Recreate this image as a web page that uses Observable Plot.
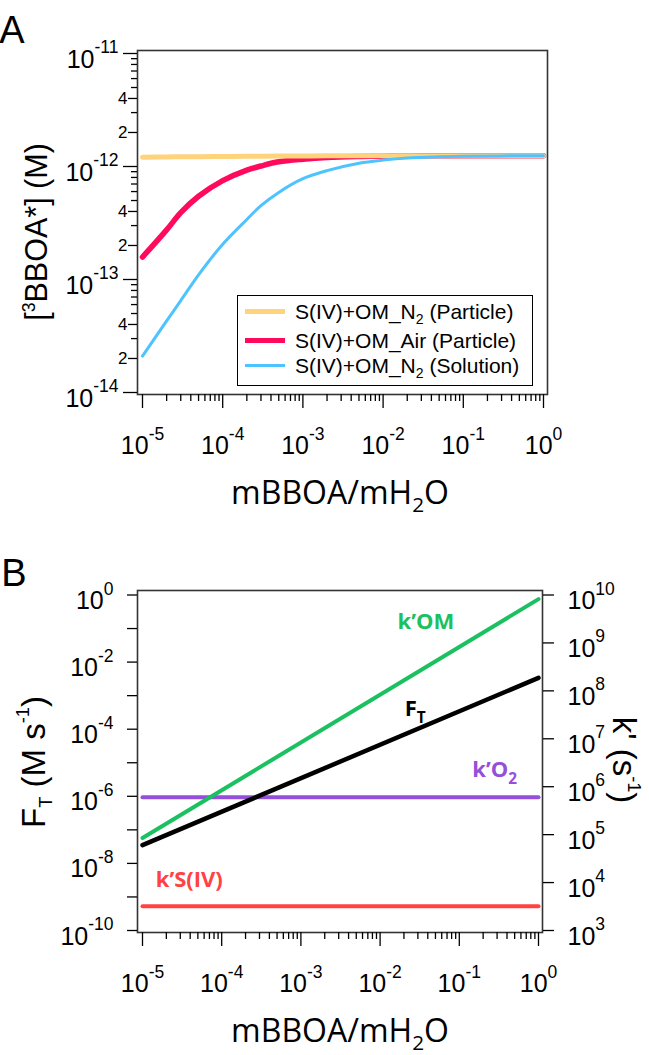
<!DOCTYPE html>
<html>
<head>
<meta charset="utf-8">
<script src="https://cdn.jsdelivr.net/npm/d3@7"></script>
<script src="https://cdn.jsdelivr.net/npm/@observablehq/plot@0.6"></script>
<style>
  html, body { margin: 0; padding: 0; background: #fff; }
  #wrap { width: 649px; }
  .panel { position: relative; width: 649px; }
  .panel svg { display: block; }
  #legend { position: absolute; left: 237px; top: 295px; width: 296px; height: 91px;
    border: 1.5px solid #000; box-sizing: border-box; background: #fff;
    font-family: "Liberation Sans", Arial, sans-serif; font-size: 21px; color: #000; }
  #legend .row { position: absolute; left: 0; height: 0; }
  #legend .sw { position: absolute; left: 7px; width: 40px; }
  #legend .lab { position: absolute; left: 57px; top: -12px; white-space: nowrap; line-height: 23px; }
  #legend sub { font-size: 14px; vertical-align: -5px; line-height: 0; }
</style>
</head>
<body>
<div id="wrap">
  <div class="panel" id="panelA"></div>
  <div class="panel" id="panelB"></div>
</div>
<script>
// ---------------- Data ----------------
// Panel A: [3BBOA*] (M) vs mBBOA/mH2O
const xA = [1e-5, 2e-5, 3e-5, 5e-5, 1e-4, 2e-4, 3e-4, 5e-4, 1e-3, 2e-3, 5e-3, 1e-2, 2e-2, 5e-2, 1e-1, 1];
const particleN2 = [1.21e-12, 1.215e-12, 1.218e-12, 1.22e-12, 1.225e-12, 1.23e-12, 1.233e-12, 1.236e-12, 1.24e-12, 1.242e-12, 1.244e-12, 1.245e-12, 1.245e-12, 1.245e-12, 1.245e-12, 1.245e-12];
const particleAir = [1.58e-13, 2.75e-13, 3.9e-13, 5.45e-13, 7.5e-13, 9.3e-13, 1.01e-12, 1.10e-12, 1.16e-12, 1.2e-12, 1.225e-12, 1.235e-12, 1.24e-12, 1.243e-12, 1.245e-12, 1.245e-12];
const solutionN2 = [2.1e-14, 4.3e-14, 6.5e-14, 1.1e-13, 2.05e-13, 3.4e-13, 4.5e-13, 5.9e-13, 7.8e-13, 9.2e-13, 1.07e-12, 1.14e-12, 1.19e-12, 1.22e-12, 1.235e-12, 1.245e-12];
const seriesA = ["S(IV)+OM_N2 (Particle)", "S(IV)+OM_Air (Particle)", "S(IV)+OM_N2 (Solution)"];
const colorsA = ["#FFD27C", "#FF0A5C", "#4DC3FF"];

// Panel B: F_T (M s-1, left) and k' (s-1, right)
const xB = [1e-5, 1];
const FT = [3.5e-8, 3.4e-3];
const kOM = [8.5e4, 8.2e9];
const kO2 = [6.0e5, 6.0e5];
const kSIV = [3.2e3, 3.2e3];
const labelsB = ["k’OM", "F_{T}", "k’O_{2}", "k’S(IV)"];
const labelXB = [0.0166, 0.0205, 0.146, 1.47e-5];
const labelYB = [0.162, 3.9e-4, 5.9e-6, 3.3e-9];   // in F_T units
const colorsB = ["#1BC160", "#000000", "#9450DA", "#FF4242"];

// Ticks
const xMajor = [1e-5, 1e-4, 1e-3, 1e-2, 1e-1, 1];
const yMajorA = [1e-14, 1e-13, 1e-12, 1e-11];
const yLabeledMinorA = [2e-14, 4e-14, 2e-13, 4e-13, 2e-12, 4e-12];
const yLabeledMinorTextA = ["2", "4", "2", "4", "2", "4"];
const yMajorBLeft = [1e-10, 1e-9, 1e-8, 1e-7, 1e-6, 1e-5, 1e-4, 1e-3, 1e-2, 1e-1, 1];
const yLabelBLeft = [1e-10, 1e-8, 1e-6, 1e-4, 1e-2, 1];
const yMajorBRight = [1e3, 1e4, 1e5, 1e6, 1e7, 1e8, 1e9, 1e10];

const mant = [2, 3, 4, 5, 6, 7, 8, 9];
const xMinor = [];
for (let e = -5; e < 0; e++) for (const m of mant) xMinor.push(m * 10 ** e);
const yMinorA = [];
for (let e = -14; e < -11; e++) for (const m of [3, 5, 6, 7, 8, 9]) yMinorA.push(m * 10 ** e);

// right axis (k') mapped onto left axis (F_T): 1e3 <-> 1e-10, 1e10 <-> 1e0
const kToF = k => 10 ** (-10 + (Math.log10(k) - 3) * 10 / 7);

const pow = d => "10^{" + Math.round(Math.log10(d)) + "}";
const FONT = "Liberation Sans, Arial, sans-serif";
const TITLEFONT = "Open Sans, sans-serif";
const TICKFS = 25;
const none = () => "";

// tick-label marks (text through the scales)
const xLabels = () => Plot.text(xMajor, {x: d => d, text: pow, frameAnchor: "bottom", lineAnchor: "top",
  dy: 42, fontSize: TICKFS, fontFamily: FONT});

// ---------------- Panel A ----------------
const lineA = (arr) => arr.map((v, j) => ({x: xA[j], y: v}));

const plotA = Plot.plot({
  width: 649, height: 515,
  marginLeft: 137, marginRight: 102, marginTop: 50, marginBottom: 121,
  insetLeft: 5, insetRight: 4, insetTop: 3, insetBottom: 2,
  x: {type: "log", domain: [1e-5, 1], label: null},
  y: {type: "log", domain: [1e-14, 1e-11], label: null},
  style: {fontFamily: FONT, color: "#000", background: "#fff", overflow: "visible"},
  marks: [
    Plot.line(lineA(particleAir), {x: "x", y: "y", stroke: colorsA[1], strokeWidth: 5.5, curve: "catmull-rom"}),
    Plot.line(lineA(particleN2), {x: "x", y: "y", stroke: colorsA[0], strokeWidth: 5, curve: "catmull-rom"}),
    Plot.line(lineA(solutionN2), {x: "x", y: "y", stroke: colorsA[2], strokeWidth: 3, curve: "catmull-rom"}),
    Plot.frame({stroke: "#333", strokeWidth: 1.6}),
    Plot.axisX(xMajor, {tickSize: 14, strokeWidth: 1.3, tickFormat: none, label: null}),
    Plot.axisX(xMinor, {tickSize: 7, strokeWidth: 1.3, tickFormat: none, label: null}),
    xLabels(),
    Plot.axisY(yMajorA, {tickSize: 14, strokeWidth: 1.3, tickFormat: none, label: null}),
    Plot.axisY(yLabeledMinorA, {tickSize: 9, strokeWidth: 1.3, tickFormat: none, label: null}),
    Plot.axisY(yMinorA, {tickSize: 6, strokeWidth: 1.3, tickFormat: none, label: null}),
    Plot.text(yMajorA, {y: d => d, text: pow, frameAnchor: "left", dx: -19, dy: 6, textAnchor: "end",
      fontSize: TICKFS, fontFamily: FONT}),
    Plot.text(yLabeledMinorA, {y: d => d, text: (d, i) => yLabeledMinorTextA[i], frameAnchor: "left", dx: -10,
      textAnchor: "end", fontSize: 17, fontFamily: FONT})
  ]
});
document.getElementById("panelA").appendChild(plotA);

// ---------------- Panel B ----------------
const rowsFT = xB.map((x, i) => ({x, y: FT[i]}));
const rowsOM = xB.map((x, i) => ({x, k: kOM[i]}));
const rowsO2 = xB.map((x, i) => ({x, k: kO2[i]}));
const rowsS = xB.map((x, i) => ({x, k: kSIV[i]}));
const rowsLab = labelsB.map((t, i) => ({t, x: labelXB[i], y: labelYB[i], c: colorsB[i]}));

const plotB = Plot.plot({
  width: 649, height: 540,
  marginLeft: 137, marginRight: 107, marginTop: 75, marginBottom: 123,
  insetLeft: 5, insetRight: 4, insetTop: 4.5, insetBottom: 2,
  x: {type: "log", domain: [1e-5, 1], label: null},
  y: {type: "log", domain: [1e-10, 1], label: null},
  style: {fontFamily: FONT, color: "#000", background: "#fff", overflow: "visible"},
  marks: [
    Plot.line(rowsS, {x: "x", y: d => kToF(d.k), stroke: colorsB[3], strokeWidth: 4}),
    Plot.line(rowsO2, {x: "x", y: d => kToF(d.k), stroke: colorsB[2], strokeWidth: 4}),
    Plot.line(rowsOM, {x: "x", y: d => kToF(d.k), stroke: colorsB[0], strokeWidth: 4}),
    Plot.line(rowsFT, {x: "x", y: "y", stroke: colorsB[1], strokeWidth: 4.5}),
    Plot.text(rowsLab, {x: "x", y: "y", text: "t", fill: "c", textAnchor: "start",
      fontFamily: TITLEFONT, fontWeight: "bold", fontSize: 22}),
    Plot.frame({stroke: "#333", strokeWidth: 1.6}),
    Plot.axisX(xMajor, {tickSize: 14, strokeWidth: 1.3, tickFormat: none, label: null}),
    Plot.axisX(xMinor, {tickSize: 7, strokeWidth: 1.3, tickFormat: none, label: null}),
    xLabels(),
    Plot.axisY(yMajorBLeft, {tickSize: 10, strokeWidth: 1.3, tickFormat: none, label: null}),
    Plot.text(yLabelBLeft, {y: d => d, text: pow, frameAnchor: "left", dx: -24, dy: 6, textAnchor: "end",
      fontSize: TICKFS, fontFamily: FONT}),
    Plot.axisY(yMajorBRight.map(kToF), {anchor: "right", tickSize: 11, strokeWidth: 1.3, tickFormat: none, label: null}),
    Plot.text(yMajorBRight, {y: k => kToF(k), text: pow, frameAnchor: "right", dx: 25, dy: 6, textAnchor: "start",
      fontSize: TICKFS, fontFamily: FONT})
  ]
});
document.getElementById("panelB").appendChild(plotB);

// ---------------- Titles (real text) ----------------
const NS = "http://www.w3.org/2000/svg";
function addText(svg, str, attrs) {
  const t = document.createElementNS(NS, "text");
  for (const k in attrs) t.setAttribute(k, attrs[k]);
  t.textContent = str;
  svg.appendChild(t);
  return t;
}
addText(plotA, "A", {x: 12, y: 43, "font-size": 38, "font-family": FONT});
addText(plotA, "[^{3}BBOA*] (M)", {transform: "translate(47,232) rotate(-90)", "text-anchor": "middle", "font-size": 30.5,
  "font-family": FONT, "data-sup": 0.38, "data-ss": 0.58});
addText(plotA, "mBBOA/mH_{2}O", {x: 340, y: 504, "text-anchor": "middle", "font-size": 32, "font-family": TITLEFONT,
  "data-sub": 0.26, "data-ss": 0.65});

addText(plotB, "B", {x: 14, y: 71, "font-size": 38, "font-family": FONT});
addText(plotB, "F_{T} (M s^{-1})", {transform: "translate(45,247) rotate(-90)", "text-anchor": "middle", "font-size": 33,
  "font-family": FONT, "data-sup": 0.5, "data-sub": 0.22, "data-ss": 0.55});
addText(plotB, "k' (s^{-1})", {transform: "translate(613,245) rotate(90)", "text-anchor": "middle", "font-size": 33,
  "font-family": FONT, "data-sup": 0.45, "data-ss": 0.55});
addText(plotB, "mBBOA/mH_{2}O", {x: 340, y: 527, "text-anchor": "middle", "font-size": 32, "font-family": TITLEFONT,
  "data-sub": 0.26, "data-ss": 0.65});

// ---------------- Rich text (super/subscripts) ----------------
function rich(el) {
  const str = el.textContent;
  if (!/[_^]\{/.test(str)) return;
  const base = parseFloat(getComputedStyle(el).fontSize) || TICKFS;
  const supF = parseFloat(el.getAttribute("data-sup") || 0.58);
  const subF = parseFloat(el.getAttribute("data-sub") || 0.3);
  const ss = parseFloat(el.getAttribute("data-ss") || 0.7);
  el.textContent = "";
  const re = /([_^])\{([^}]*)\}/g;
  let last = 0, shift = 0, m;
  const add = (txt, kind) => {
    const t = document.createElementNS(NS, "tspan");
    const target = kind === "^" ? -supF * base : kind === "_" ? subF * base : 0;
    if (target - shift !== 0) t.setAttribute("dy", (target - shift).toFixed(2));
    shift = target;
    if (kind) t.style.fontSize = (ss * base).toFixed(1) + "px";
    t.textContent = txt;
    el.appendChild(t);
  };
  while ((m = re.exec(str))) {
    if (m.index > last) add(str.slice(last, m.index), null);
    add(m[2], m[1]);
    last = re.lastIndex;
  }
  if (last < str.length) add(str.slice(last), null);
}
document.querySelectorAll("svg text").forEach(rich);

// ---------------- Legend (panel A) ----------------
const legend = document.createElement("div");
legend.id = "legend";
const legendRows = [
  {y: 17, c: colorsA[0], w: 5, html: "S(IV)+OM_N<sub>2</sub> (Particle)"},
  {y: 46, c: colorsA[1], w: 5.5, html: "S(IV)+OM_Air (Particle)"},
  {y: 71, c: colorsA[2], w: 3, html: "S(IV)+OM_N<sub>2</sub> (Solution)"}
];
legendRows.forEach(r => {
  const row = document.createElement("div");
  row.className = "row";
  row.style.top = (r.y - 1.5) + "px";
  const sw = document.createElement("div");
  sw.className = "sw";
  sw.style.height = r.w + "px";
  sw.style.top = (-r.w / 2) + "px";
  sw.style.background = r.c;
  const lab = document.createElement("div");
  lab.className = "lab";
  lab.innerHTML = r.html;
  row.appendChild(sw);
  row.appendChild(lab);
  legend.appendChild(row);
});
document.getElementById("panelA").appendChild(legend);
</script>
</body>
</html>
